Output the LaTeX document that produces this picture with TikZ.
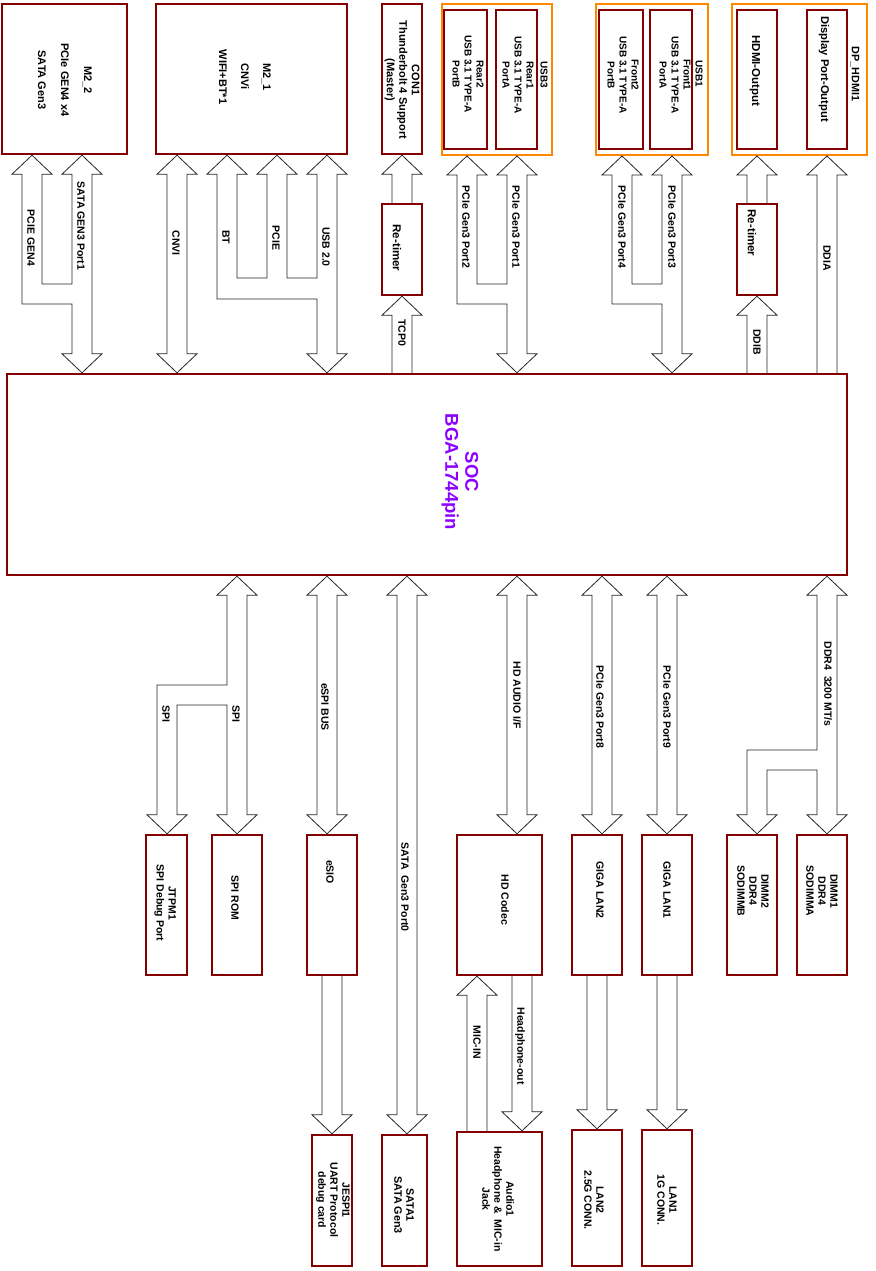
\documentclass[tikz,border=0pt]{standalone}
\usepackage{fontspec}
\setmainfont{Liberation Sans}
\usetikzlibrary{calc}
\definecolor{boxred}{RGB}{132,0,0}
\definecolor{usborange}{RGB}{255,136,0}
\definecolor{socpurple}{RGB}{140,0,255}
\tikzset{
  box/.style={draw=boxred, line width=2.4pt, fill=white, inner sep=0pt},
  obox/.style={draw=usborange, line width=2pt, inner sep=0pt},
  bus/.style={draw=black!85, line width=0.8pt, fill=white},
  lbl/.style={rotate=-90, inner sep=0pt, align=center, font=\fontsize{10.5}{12}\selectfont\bfseries},
  tlbl/.style={lbl, font=\fontsize{10}{12}\selectfont\bfseries},
}
% hollow buses: x of the bus, then the node above and the node below
\newcommand{\busud}[3]{%
  \draw[bus] let \p1=(#2), \p2=(#3) in
    (#1pt,\y1) -- ++(20pt,-19pt) -- ++(-10pt,0pt) -- (#1pt+10pt,\y2+19pt)
    -- ++(10pt,0pt) -- (#1pt,\y2) -- ++(-20pt,19pt) -- ++(10pt,0pt)
    -- (#1pt-10pt,\y1-19pt) -- ++(-10pt,0pt) -- cycle;}
\newcommand{\busu}[3]{%
  \draw[bus] let \p1=(#2), \p2=(#3) in
    (#1pt-10pt,\y2) -- (#1pt-10pt,\y1-19pt) -- ++(-10pt,0pt) -- (#1pt,\y1)
    -- ++(20pt,-19pt) -- ++(-10pt,0pt) -- (#1pt+10pt,\y2);}
\newcommand{\busd}[3]{%
  \draw[bus] let \p1=(#2), \p2=(#3) in
    (#1pt-10pt,\y1) -- (#1pt-10pt,\y2+19pt) -- ++(-10pt,0pt) -- (#1pt,\y2)
    -- ++(20pt,19pt) -- ++(-10pt,0pt) -- (#1pt+10pt,\y1);}
% two buses from above joining into one
\newcommand{\busjoin}[6]{%
  \draw[bus] let \p1=(#3), \p2=(#4) in
    (#1pt,\y1) -- ++(20pt,-19pt) -- ++(-10pt,0pt) -- (#1+10,#5) -- (#2-10,#5)
    -- (#2pt-10pt,\y1-19pt) -- ++(-10pt,0pt) -- (#2pt,\y1) -- ++(20pt,-19pt)
    -- ++(-10pt,0pt) -- (#2pt+10pt,\y2+19pt) -- ++(10pt,0pt) -- (#2pt,\y2)
    -- ++(-20pt,19pt) -- ++(10pt,0pt) -- (#2-10,#6) -- (#1-10,#6)
    -- (#1pt-10pt,\y1-19pt) -- ++(-10pt,0pt) -- cycle;}
% one bus from above splitting in two
\newcommand{\bussplit}[6]{%
  \draw[bus] let \p1=(#3), \p2=(#4) in
    (#2pt,\y1) -- ++(20pt,-19pt) -- ++(-10pt,0pt) -- (#2pt+10pt,\y2+19pt)
    -- ++(10pt,0pt) -- (#2pt,\y2) -- ++(-20pt,19pt) -- ++(10pt,0pt)
    -- (#2-10,#6) -- (#1+10,#6) -- (#1pt+10pt,\y2+19pt) -- ++(10pt,0pt)
    -- (#1pt,\y2) -- ++(-20pt,19pt) -- ++(10pt,0pt) -- (#1-10,#5) -- (#2-10,#5)
    -- (#2pt-10pt,\y1-19pt) -- ++(-10pt,0pt) -- cycle;}

\begin{document}
\begin{tikzpicture}[x=1pt, y=-1pt]
\useasboundingbox (0,0) rectangle (875,1271);
% top row
\node[box, minimum width=125, minimum height=150] (m22) at (64.5,79) {};
\node[box, minimum width=191, minimum height=150] (m21) at (251.5,79) {};
\node[box, minimum width=40, minimum height=150] (con1) at (402,79) {};
\node[box, minimum width=40, minimum height=91] (rtA) at (402,249.5) {};
\node[obox, minimum width=110, minimum height=151] (usb3) at (497,79.5) {};
\node[box, minimum width=43, minimum height=139] (rear2) at (465.5,79.5) {};
\node[box, minimum width=41, minimum height=139] (rear1) at (516.5,79.5) {};
\node[obox, minimum width=112, minimum height=151] (usb1) at (652,79.5) {};
\node[box, minimum width=44, minimum height=139] (front2) at (621,79.5) {};
\node[box, minimum width=42, minimum height=139] (front1) at (671,79.5) {};
\node[obox, minimum width=135, minimum height=151] (dphdmi) at (799.5,79.5) {};
\node[box, minimum width=40, minimum height=139] (hdmi) at (757,79.5) {};
\node[box, minimum width=40, minimum height=139] (dport) at (827,79.5) {};
\node[box, minimum width=40, minimum height=91] (rtB) at (757,249.5) {};
% SoC
\node[box, minimum width=840, minimum height=201] (soc) at (427,474.5) {};
% middle row
\node[box, minimum width=41, minimum height=140] (jtpm) at (166.5,905) {};
\node[box, minimum width=50, minimum height=140] (spirom) at (237,905) {};
\node[box, minimum width=50, minimum height=140] (esio) at (332,905) {};
\node[box, minimum width=85, minimum height=140] (codec) at (499.5,905) {};
\node[box, minimum width=50, minimum height=140] (glan2) at (597,905) {};
\node[box, minimum width=50, minimum height=140] (glan1) at (667,905) {};
\node[box, minimum width=50, minimum height=140] (dimm2) at (752,905) {};
\node[box, minimum width=50, minimum height=140] (dimm1) at (822,905) {};
% bottom row
\node[box, minimum width=40, minimum height=131] (jespi) at (332,1200.5) {};
\node[box, minimum width=45, minimum height=131] (sata1) at (404.5,1200.5) {};
\node[box, minimum width=85, minimum height=134] (audio) at (499.5,1199) {};
\node[box, minimum width=50, minimum height=136] (lan2) at (597,1198) {};
\node[box, minimum width=50, minimum height=136] (lan1) at (667,1198) {};

% buses above the SoC
\busjoin{32}{82}{m22.south}{soc.north}{284}{304}
\busud{177}{m21.south}{soc.north}
\draw[bus] let \p1=(m21.south), \p2=(soc.north) in
  (227pt,\y1) -- ++(20pt,-19pt) -- ++(-10pt,0pt) -- (237,278) -- (267,278)
  -- (267pt,\y1-19pt) -- ++(-10pt,0pt) -- (277pt,\y1) -- ++(20pt,-19pt)
  -- ++(-10pt,0pt) -- (287,278) -- (317,278) -- (317pt,\y1-19pt) -- ++(-10pt,0pt)
  -- (327pt,\y1) -- ++(20pt,-19pt) -- ++(-10pt,0pt) -- (337pt,\y2+19pt)
  -- ++(10pt,0pt) -- (327pt,\y2) -- ++(-20pt,19pt) -- ++(10pt,0pt)
  -- (317,299) -- (217,299) -- (217pt,\y1-19pt) -- ++(-10pt,0pt) -- cycle;
\busu{402}{con1.south}{rtA.north}
\busu{402}{rtA.south}{soc.north}
\busjoin{467}{517}{usb3.south}{soc.north}{284}{304}
\busjoin{622}{672}{usb1.south}{soc.north}{284}{304}
\busu{757}{dphdmi.south}{rtB.north}
\busu{757}{rtB.south}{soc.north}
\busu{827}{dphdmi.south}{soc.north}
% buses below the SoC
\bussplit{167}{237}{soc.south}{spirom.north}{685}{705}
\busud{327}{soc.south}{esio.north}
\busud{407}{soc.south}{sata1.north}
\busud{517}{soc.south}{codec.north}
\busud{602}{soc.south}{glan2.north}
\busud{667}{soc.south}{glan1.north}
\bussplit{757}{827}{soc.south}{dimm1.north}{750}{770}
\busd{332}{esio.south}{jespi.north}
\busu{477}{codec.south}{audio.north}
\busd{522}{codec.south}{audio.north}
\busd{597}{glan2.south}{lan2.north}
\busd{667}{glan1.south}{lan1.north}

% box texts
\node[lbl, font=\fontsize{11}{12}\selectfont\bfseries] (t-m22) at (65,80) {M2\_2\\[11pt]PCIe GEN4 x4\\[11pt]SATA Gen3};
\node[lbl, font=\fontsize{11}{12}\selectfont\bfseries] (t-m21) at (245,77) {M2\_1\\[10pt]CNVi\\[10pt]WIFI+BT*1};
\node[lbl, font=\fontsize{11}{12.5}\selectfont\bfseries] (t-con1) at (402,80) {CON1\\Thunderbolt 4 Support\\(Master)};
\node[lbl, font=\fontsize{11.5}{12}\selectfont\bfseries] (t-rtA) at (397,248) {Re-timer};
\node[tlbl] (t-rear2) at (468,74) {Rear2\\USB 3.1 TYPE-A\\PortB};
\node[tlbl] (t-rear1) at (518,75) {Rear1\\USB 3.1 TYPE-A\\PortA};
\node[tlbl] (t-usb3) at (544,75) {USB3};
\node[tlbl] (t-front2) at (623,75) {Front2\\USB 3.1 TYPE-A\\PortB};
\node[tlbl] (t-front1) at (675,75) {Front1\\USB 3.1 TYPE-A\\PortA};
\node[tlbl] (t-usb1) at (699,74) {USB1};
\node[lbl, font=\fontsize{11.5}{12}\selectfont\bfseries] (t-hdmi) at (755,71) {HDMI-Output};
\node[lbl, font=\fontsize{11.2}{12}\selectfont\bfseries] (t-dport) at (824,69) {Display Port-Output};
\node[lbl, font=\fontsize{10.8}{12}\selectfont\bfseries] (t-dphdmi) at (855,74) {DP\_HDMI1};
\node[lbl, font=\fontsize{11.5}{12}\selectfont\bfseries] (t-rtB) at (752,233) {Re-timer};
\node[lbl, text=socpurple, font=\fontsize{18.5}{20}\selectfont\bfseries] (t-soc) at (460,472) {SOC\\BGA-1744pin};
\node[lbl] (t-jtpm) at (165,903) {JTPM1\\SPI Debug Port};
\node[lbl] (t-spirom) at (235,898) {SPI ROM};
\node[lbl] (t-esio) at (330,872) {eSIO};
\node[lbl] (t-codec) at (505,900) {HD Codec};
\node[lbl] (t-glan2) at (600,890) {GIGA LAN2};
\node[lbl] (t-glan1) at (667,890) {GIGA LAN1};
\node[lbl] (t-dimm2) at (753,891) {DIMM2\\DDR4\\SODIMMB};
\node[lbl] (t-dimm1) at (822,891) {DIMM1\\DDR4\\SODIMMA};
\node[lbl] (t-jespi) at (333,1200) {JESPI1\\UART Protocol\\debug card};
\node[lbl, font=\fontsize{10.8}{12}\selectfont\bfseries] (t-sata1) at (404,1205) {SATA1\\SATA Gen3};
\node[lbl] (t-audio) at (498,1199) {Audio1\\Headphone \&\ \ MIC-in\\Jack};
\node[lbl] (t-lan2) at (594,1200) {LAN2\\2.5G CONN.};
\node[lbl] (t-lan1) at (667,1200) {LAN1\\1G CONN.};

% bus labels
\node[lbl] (l-pcie4) at (31,238) {PCIE GEN4};
\node[lbl] (l-sata1) at (81,226) {SATA GEN3 Port1};
\node[lbl] (l-cnvi) at (176,243) {CNVI};
\node[lbl] (l-bt) at (226,237) {BT};
\node[lbl] (l-pcie) at (276,238) {PCIE};
\node[lbl] (l-usb2) at (326,247) {USB 2.0};
\node[lbl] (l-tcp0) at (402,333) {TCP0};
\node[lbl] (l-p2) at (466,227) {PCIe Gen3 Port2};
\node[lbl] (l-p1) at (516,227) {PCIe Gen3 Port1};
\node[lbl] (l-p4) at (622,227) {PCIe Gen3 Port4};
\node[lbl] (l-p3) at (672,227) {PCIe Gen3 Port3};
\node[lbl] (l-ddib) at (757,342) {DDIB};
\node[lbl] (l-ddia) at (827,258) {DDIA};
\node[lbl] (l-spi1) at (166,714) {SPI};
\node[lbl] (l-spi2) at (236,714) {SPI};
\node[lbl] (l-espi) at (325,707) {eSPI BUS};
\node[lbl] (l-sata0) at (405,887) {SATA\ \ Gen3 Port0};
\node[lbl] (l-hda) at (517,695) {HD AUDIO I/F};
\node[lbl] (l-p8) at (600,707) {PCIe Gen3 Port8};
\node[lbl] (l-p9) at (667,707) {PCIe Gen3 Port9};
\node[lbl] (l-ddr) at (828,684) {DDR4\ \ 3200 MT/s};
\node[lbl] (l-mic) at (477,1042) {MIC-IN};
\node[lbl] (l-hp) at (520,1046) {Headphone-out};
\end{tikzpicture}
\end{document}
